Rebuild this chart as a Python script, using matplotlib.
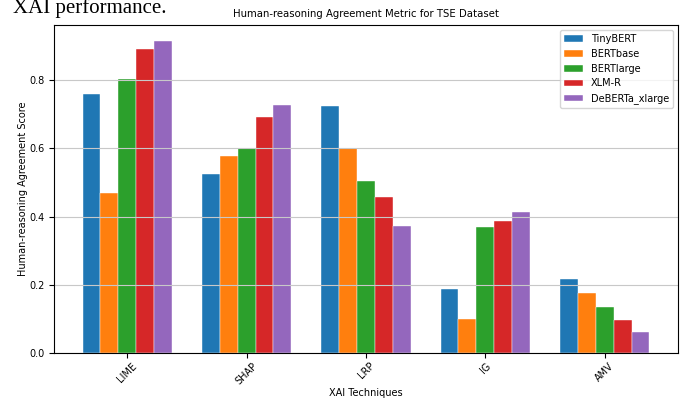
import numpy as np
import matplotlib.pyplot as plt

techniques = ['LIME', 'SHAP', 'LRP', 'IG', 'AMV']
models = ['TinyBERT', 'BERTbase', 'BERTlarge', 'XLM-R', 'DeBERTa_xlarge']

tinybert = [0.760, 0.525, 0.724, 0.189, 0.216]
bertbase = [0.470, 0.576, 0.601, 0.100, 0.177]
bertlarge = [0.804, 0.602, 0.503, 0.369, 0.134]
xlmr = [0.890, 0.691, 0.457, 0.387, 0.097]
deberta = [0.915, 0.727, 0.371, 0.413, 0.061]

scores = [tinybert, bertbase, bertlarge, xlmr, deberta]

fig = plt.figure(figsize=(6.86, 3.99), dpi=100)
ax = fig.add_axes([0.079, 0.115, 0.909, 0.822])

x = np.arange(len(techniques))
width = 0.15
for i, (name, vals) in enumerate(zip(models, scores)):
    ax.bar(x + (i - 2) * width, vals, width, label=name,
           edgecolor='white', linewidth=0.3)

ax.set_xticks(x)
ax.set_xticklabels(techniques, rotation=45, fontsize=7)
ax.tick_params(axis='x', pad=2)
ax.tick_params(axis='y', labelsize=7)
ax.set_xlabel('XAI Techniques', fontsize=7, labelpad=1)
ax.set_ylabel('Human-reasoning Agreement Score', fontsize=7, labelpad=1)
ax.set_title('Human-reasoning Agreement Metric for TSE Dataset', fontsize=7.3)
ax.grid(axis='y', color='#c8c8c8')
ax.legend(loc='upper right', fontsize=7)

fig.text(0.019, 1 - 13 / 399, 'XAI performance.', family='Liberation Serif',
         fontsize=15, va='baseline', ha='left')

fig.savefig('out.png')
